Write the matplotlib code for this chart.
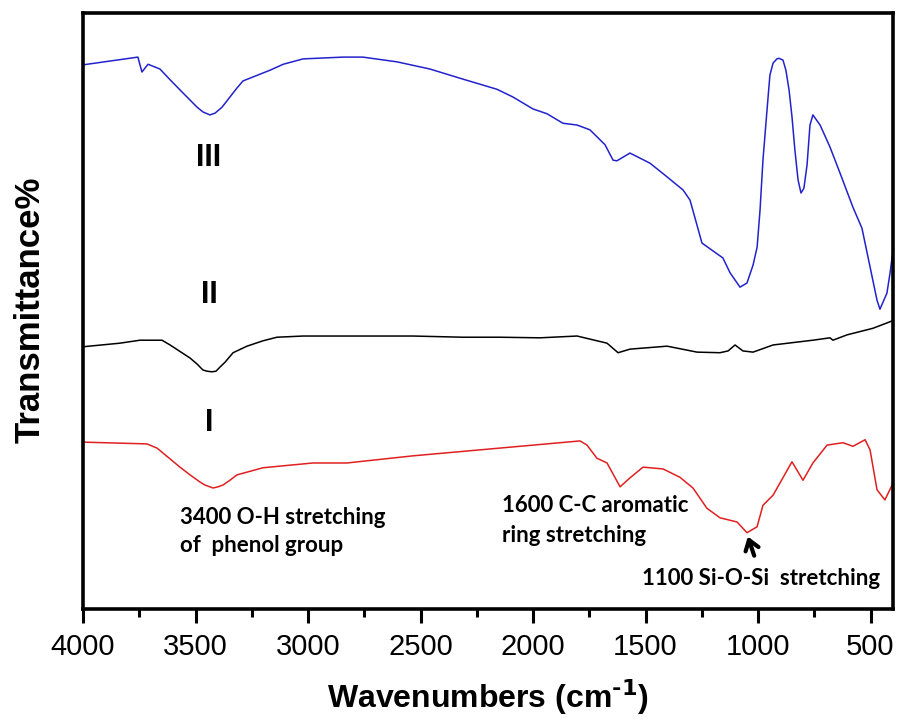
import matplotlib
matplotlib.use("Agg")
import matplotlib.pyplot as plt

# ---- data (wavenumber in cm-1, transmittance arb. %) ----
wn_III = [4000, 3756, 3738, 3711, 3658, 3613, 3556, 3493, 3467, 3436, 3413, 3382, 3347, 3316,
          3289, 3169, 3110, 3022, 2844, 2756,
          2604, 2458, 2311, 2160, 2089, 2000, 1938, 1867, 1804, 1747, 1680, 1644, 1627, 1569,
          1480, 1404, 1333, 1302, 1249, 1156, 1124, 1080, 1049, 1022, 1004, 991, 978, 960, 947,
          933, 916, 907, 889, 876, 862, 849, 836, 822, 809, 796, 782, 769, 756,
          724, 680, 636, 578, 538, 502, 471, 458, 427, 413, 400]
T_III = [91.3, 92.6, 90.1, 91.4, 90.6, 88.8, 86.6, 84.2, 83.4, 82.9, 83.2, 84.2, 85.9, 87.4,
         88.6, 90.4, 91.4, 92.3, 92.6, 92.6,
         91.8, 90.6, 88.9, 87.2, 85.9, 83.9, 83.1, 81.5, 81.2, 80.4, 77.9, 75.3, 75.2, 76.5,
         74.8, 72.5, 70.3, 68.6, 61.4, 58.9, 56.4, 54.0, 54.7, 57.7, 60.7, 66.9, 75.3, 83.7, 89.6,
         91.6, 92.3, 92.4, 92.1, 90.4, 87.1, 82.6, 77.0, 72.0, 69.8, 70.6, 74.5, 81.2, 82.9,
         81.2, 77.5, 73.2, 67.4, 63.9, 57.4, 51.8, 50.3, 53.0, 56.4, 60.2]

wn_II = [4000, 3836, 3747, 3649, 3613, 3524, 3493, 3467, 3449, 3427, 3409, 3391, 3369, 3333,
         3271, 3200, 3138, 3022,
         2827, 2533, 2311, 2147, 1969, 1804, 1671, 1622, 1569, 1404, 1271, 1169, 1133, 1102,
         1067, 1022, 933, 756, 680, 667, 604, 489, 413, 400]
T_II = [44.0, 44.6, 45.1, 45.1, 44.3, 42.1, 41.1, 40.1, 39.9, 39.8, 39.9, 40.6, 41.4, 43.0,
        44.1, 45.0, 45.6, 45.8,
        45.8, 45.8, 45.6, 45.6, 45.5, 45.8, 44.6, 43.0, 43.6, 44.1, 43.1, 43.0, 43.3, 44.3,
        43.3, 43.1, 44.3, 45.1, 45.5, 45.1, 46.0, 47.1, 48.2, 48.4]

wn_I = [4000, 3716, 3671, 3569, 3524, 3480, 3458, 3422, 3400, 3378, 3347, 3316, 3200, 2978,
        2827, 2533, 2147, 1791,
        1760, 1716, 1671, 1613, 1569, 1511, 1422, 1347, 1289, 1227, 1169, 1093, 1049, 1004,
        978, 933, 849, 800, 756, 693, 622, 578, 524, 502, 471, 436, 404, 400]
T_I = [28.0, 27.7, 27.0, 23.8, 22.5, 21.3, 20.8, 20.3, 20.5, 20.8, 21.6, 22.5, 23.7, 24.5,
       24.5, 25.7, 27.0, 28.2,
       27.5, 25.3, 24.5, 20.5, 22.0, 23.8, 23.5, 22.1, 20.3, 16.9, 15.3, 14.6, 12.8, 13.8,
       17.4, 19.1, 24.7, 21.6, 24.5, 27.5, 27.9, 27.3, 28.4, 26.7, 20.0, 18.3, 20.8, 21.2]

xticks = [4000, 3500, 3000, 2500, 2000, 1500, 1000, 500]
minor_ticks = [3750, 3250, 2750, 2250, 1750, 1250, 750]
series_labels = ["III", "II", "I"]

W, H = 901, 723
fig = plt.figure(figsize=(W / 100, H / 100), dpi=100)
ax = fig.add_axes([83 / W, (H - 609) / H, (893 - 83) / W, (609 - 13) / H])

ax.plot(wn_III, T_III, color="#2222cc", lw=1.1)
ax.plot(wn_II, T_II, color="black", lw=1.1)
ax.plot(wn_I, T_I, color="#e02020", lw=1.1)

ax.set_xlim(4000, 400)
ax.set_ylim(0, 100)

for s in ax.spines.values():
    s.set_linewidth(2.6)
    s.set_color("black")

ax.set_xticks(xticks)
ax.set_xticklabels([str(t) for t in xticks], family="Liberation Sans", fontsize=21)
ax.set_xticks(minor_ticks, minor=True)
ax.tick_params(axis="x", which="major", direction="out", length=10, width=2.2, pad=7)
ax.tick_params(axis="x", which="minor", direction="out", length=5.5, width=2.2)
ax.set_yticks([])

plt.rcParams["mathtext.fontset"] = "custom"
plt.rcParams["mathtext.bf"] = "Liberation Sans:bold"
plt.rcParams["mathtext.rm"] = "Liberation Sans"
ax.set_xlabel("Wavenumbers (cm$^{\\mathbf{\u2010}\\mathbf{1}}$)", family="Liberation Sans",
              fontweight="bold", fontsize=23, labelpad=12)
fig.text(30 / W, 1 - 310 / H, "Transmittance%", rotation=90, ha="center", va="center",
         family="Liberation Sans", fontweight="bold", fontsize=25)

# series labels
for lab, yv in zip(series_labels, [75.7, 52.7, 31.2]):
    ax.text(3440, yv, lab, ha="center", va="center", family="Liberation Sans",
            fontweight="bold", fontsize=22)

afont = dict(family="Lato", fontweight="bold", fontsize=16, ha="left", va="center")
ax.text(3569, 15.4, "3400 O-H stretching", **afont)
ax.text(3569, 10.7, "of  phenol group", **afont)
ax.text(2138, 17.4, "1600 C-C aromatic", **afont)
ax.text(2138, 12.3, "ring stretching", **afont)
ax.text(1516, 5.2, "1100 Si-O-Si  stretching", **afont)

ax.annotate("", xy=(1049, 12.6), xytext=(1013, 8.5),
            arrowprops=dict(arrowstyle="->,head_length=0.5,head_width=0.35", color="black",
                            lw=3, mutation_scale=14))

fig.savefig("out.png", dpi=100)
